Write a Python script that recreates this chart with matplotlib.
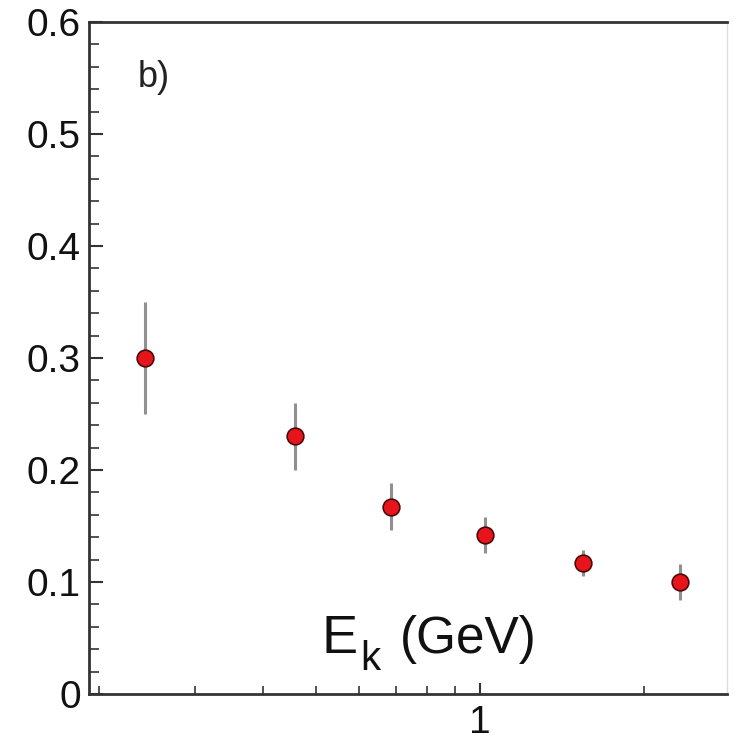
import numpy as np
import matplotlib
matplotlib.use('Agg')
import matplotlib.pyplot as plt
from matplotlib.ticker import FixedLocator, NullFormatter, MultipleLocator, FixedFormatter

plt.rcParams['font.family'] = ['Liberation Sans', 'DejaVu Sans']

# kinetic energy bins (GeV) and measured values with errors
energy = [0.243, 0.458, 0.687, 1.02, 1.545, 2.33]
value  = [0.300, 0.230, 0.167, 0.142, 0.117, 0.100]
error  = [0.050, 0.030, 0.021, 0.016, 0.012, 0.016]

x_major = [1]
x_major_labels = ['1']
x_minor = [0.2, 0.3, 0.4, 0.5, 0.6, 0.7, 0.8, 0.9, 2]
y_ticks = [0, 0.1, 0.2, 0.3, 0.4, 0.5, 0.6]
y_labels = ['0', '0.1', '0.2', '0.3', '0.4', '0.5', '0.6']

fig = plt.figure(figsize=(7.34, 7.35), dpi=100)
ax = fig.add_axes([0.1213, 0.0558, 0.8692, 0.9143])

ax.errorbar(energy, value, yerr=error, fmt='o', color='#e8141c',
            markersize=12, markeredgecolor='#4a0808', markeredgewidth=1.2,
            ecolor='#909090', elinewidth=2.2, capsize=0, zorder=3)

ax.set_xscale('log')
ax.set_xlim(0.1917, 2.84)
ax.set_ylim(0, 0.6)

ax.xaxis.set_major_locator(FixedLocator(x_major))
ax.xaxis.set_major_formatter(FixedFormatter(x_major_labels))
ax.xaxis.set_minor_locator(FixedLocator(x_minor))
ax.xaxis.set_minor_formatter(NullFormatter())

ax.set_yticks(y_ticks)
ax.set_yticklabels(y_labels)
ax.yaxis.set_minor_locator(MultipleLocator(0.02))

ax.tick_params(axis='both', which='both', direction='in', colors='#333333',
               labelcolor='#111111', labelsize=28)
ax.tick_params(axis='y', which='major', length=10, width=1.5, pad=6)
ax.tick_params(axis='y', which='minor', length=7, width=1.2)
ax.tick_params(axis='x', which='major', length=8, width=1.5, pad=8)
ax.tick_params(axis='x', which='minor', length=6, width=1.2)

for side in ['left', 'bottom', 'top']:
    ax.spines[side].set_linewidth(2.0)
    ax.spines[side].set_color('#333333')
ax.spines['right'].set_linewidth(1.0)
ax.spines['right'].set_color('#dddddd')

ax.text(0.077, 0.918, 'b)', transform=ax.transAxes, fontsize=26,
        color='#222222', va='center', ha='left')

# axis title written inside the frame: E with a dropped subscript k
ax.text(0.365, 0.061, 'E', transform=ax.transAxes, fontsize=39,
        color='#111111', va='baseline', ha='left')
ax.text(0.425, 0.036, 'k', transform=ax.transAxes, fontsize=29,
        color='#111111', va='baseline', ha='left')
ax.text(0.487, 0.061, '(GeV)', transform=ax.transAxes, fontsize=37,
        color='#111111', va='baseline', ha='left')

fig.savefig('out.png', dpi=100)
